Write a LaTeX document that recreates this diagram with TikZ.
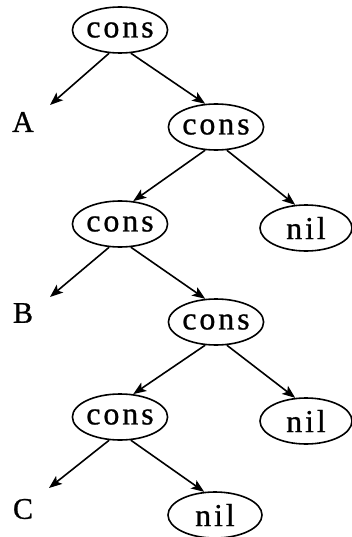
\documentclass[tikz,border=0pt]{standalone}
\usepackage{fontspec}
\setmainfont{Liberation Serif}
\newfontfamily\spacedfont[LetterSpace=9,FakeBold=0.8]{Liberation Serif}
\newfontfamily\lblfont[FakeBold=0.8]{Liberation Serif}
\usetikzlibrary{shapes.geometric,arrows.meta}
\begin{document}
\begin{tikzpicture}[x=1pt,y=-1pt,
  tnode/.style={draw,ellipse,line width=1.6pt,minimum width=94pt,minimum height=46pt,inner sep=0pt,
    font=\spacedfont\fontsize{32}{32}\selectfont},
  lbl/.style={font=\lblfont\fontsize{30}{30}\selectfont,inner sep=0pt},
  arr/.style={line width=1.6pt,-{Stealth[length=13pt,width=10pt,inset=3pt]}}]
\useasboundingbox (0,0) rectangle (352,537);
\node[tnode] (c1) at (120,30) {cons};
\node[tnode] (c2) at (216,127) {cons};
\node[tnode] (c3) at (120,224) {cons};
\node[tnode] (c4) at (216,322) {cons};
\node[tnode] (c5) at (120,417) {cons};
\node[tnode,minimum width=92pt] (n1) at (306,228) {nil};
\node[tnode,minimum width=92pt] (n2) at (306,421) {nil};
\node[tnode] (n3) at (215,515) {nil};
\node[lbl] (A) at (23,122) {A};
\node[lbl] (B) at (23,313) {B};
\node[lbl] (C) at (23,509) {C};
\coordinate (ta) at (50,105);
\coordinate (tb) at (50,297);
\coordinate (tc) at (49,488);
\draw[arr] (c1.-115) -- (ta);
\draw[arr] (c1.-65) -- (c2.115);
\draw[arr] (c2.-115) -- (c3.60);
\draw[arr] (c2.-65) -- (n1.115);
\draw[arr] (c3.-115) -- (tb);
\draw[arr] (c3.-65) -- (c4.115);
\draw[arr] (c4.-115) -- (c5.60);
\draw[arr] (c4.-65) -- (n2.115);
\draw[arr] (c5.-115) -- (tc);
\draw[arr] (c5.-65) -- (n3.115);
\end{tikzpicture}
\end{document}
